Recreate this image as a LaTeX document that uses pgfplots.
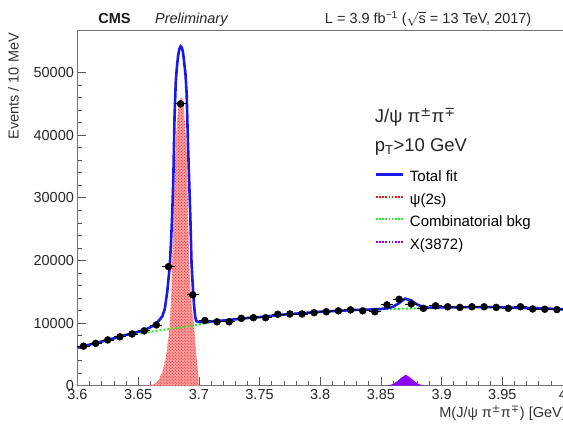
\documentclass[border=0pt]{standalone}
\usepackage{fontspec}
\setmainfont{Liberation Sans}
\newfontfamily\dejavu{DejaVu Sans}
\usepackage{pgfplots}
\pgfplotsset{compat=1.18}
\usetikzlibrary{patterns}
\definecolor{fitblue}{RGB}{25,25,235}
\definecolor{bkggreen}{RGB}{40,235,40}
\definecolor{xviolet}{RGB}{140,0,245}
\definecolor{sigred}{RGB}{240,20,20}

\pgfplotstableread{
x y ex ey
3.605 6300 0.005 80
3.615 6750 0.005 82
3.625 7300 0.005 85
3.635 7800 0.005 88
3.645 8250 0.005 91
3.655 8750 0.005 94
3.665 9700 0.005 98
3.675 19000 0.005 138
3.685 45000 0.005 212
3.695 14500 0.005 120
3.705 10400 0.005 102
3.715 10200 0.005 101
3.725 10200 0.005 101
3.735 10750 0.005 104
3.745 10850 0.005 104
3.755 10850 0.005 104
3.765 11400 0.005 107
3.775 11450 0.005 107
3.785 11450 0.005 107
3.795 11650 0.005 108
3.805 11800 0.005 109
3.815 11950 0.005 109
3.825 12100 0.005 110
3.835 11950 0.005 109
3.845 11800 0.005 109
3.855 12900 0.005 114
3.865 13800 0.005 117
3.875 13050 0.005 114
3.885 12350 0.005 111
3.895 12750 0.005 113
3.905 12600 0.005 112
3.915 12500 0.005 112
3.925 12600 0.005 112
3.935 12600 0.005 112
3.945 12500 0.005 112
3.955 12350 0.005 111
3.965 12600 0.005 112
3.975 12250 0.005 111
3.985 12200 0.005 110
3.995 12150 0.005 110
}\datatable

\pgfplotstableread{
x y
3.600 6100
3.610 6550
3.620 7050
3.630 7550
3.640 8100
3.645 8350
3.650 8600
3.655 8900
3.660 9300
3.663 9650
3.666 10150
3.668 10600
3.670 11100
3.672 12300
3.674 15000
3.675 17000
3.676 19000
3.677 22500
3.678 27000
3.679 33000
3.680 43000
3.681 48500
3.682 51000
3.683 52800
3.684 53800
3.685 54200
3.686 54000
3.687 53200
3.688 51500
3.689 49800
3.690 46500
3.691 39000
3.692 33000
3.693 27000
3.694 19500
3.695 16000
3.696 13000
3.697 11000
3.698 10300
3.700 10150
3.710 10250
3.720 10400
3.730 10600
3.740 10800
3.750 10950
3.760 11150
3.770 11350
3.780 11500
3.790 11650
3.800 11800
3.810 11900
3.820 12000
3.830 12100
3.840 12150
3.850 12250
3.855 12350
3.860 12600
3.865 13200
3.870 13900
3.875 13600
3.880 12950
3.885 12550
3.890 12450
3.900 12500
3.920 12550
3.940 12550
3.960 12450
3.980 12350
4.000 12200
}\fittable

\pgfplotstableread{
x y
3.600 6100
3.610 6550
3.620 7050
3.630 7550
3.640 8050
3.650 8350
3.660 8600
3.670 8900
3.680 9200
3.690 9450
3.700 9750
3.710 10150
3.720 10400
3.730 10600
3.740 10800
3.750 10950
3.760 11150
3.770 11350
3.780 11500
3.790 11650
3.800 11800
3.810 11900
3.820 12000
3.830 12100
3.840 12150
3.850 12200
3.860 12250
3.870 12300
3.880 12350
3.890 12400
3.900 12500
3.920 12550
3.940 12550
3.960 12450
3.980 12350
4.000 12200
}\bkgtable

\pgfplotstableread{
x y
3.655 0
3.660 100
3.664 300
3.667 900
3.670 2200
3.6725 4100
3.674 6000
3.676 9400
3.677 13000
3.678 19000
3.679 26000
3.680 33000
3.681 38500
3.682 42000
3.683 44500
3.6845 45800
3.686 46000
3.687 45500
3.688 43500
3.689 40500
3.690 37700
3.691 29000
3.692 20000
3.693 16000
3.694 13000
3.695 11200
3.6962 9400
3.697 7000
3.6984 4100
3.6995 2000
3.700 0
}\sigtable

\pgfplotstableread{
x y
3.855 0
3.860 250
3.864 800
3.867 1300
3.8705 1750
3.874 1300
3.877 800
3.881 250
3.886 0
}\xtable

\begin{document}
\begin{tikzpicture}
\begin{axis}[
  name=ax,
  width=486pt, height=356pt, scale only axis,
  xmin=3.6, xmax=4.0, ymin=0, ymax=56800,
  scaled y ticks=false, scaled x ticks=false,
  xtick={3.6,3.65,3.7,3.75,3.8,3.85,3.9,3.95,4.0},
  xticklabels={3.6,3.65,3.7,3.75,3.8,3.85,3.9,3.95,4},
  ytick={0,10000,20000,30000,40000,50000},
  yticklabels={0,10000,20000,30000,40000,50000},
  minor x tick num=4, minor y tick num=4,
  tick align=inside, tick pos=left,
  major tick length=9pt, minor tick length=5pt,
  every tick/.style={black!65, line width=0.6pt},
  axis line style={black!55, line width=0.8pt},
  tick label style={font=\fontsize{14.5}{15}\selectfont, text=black!85},
  legend style={at={(axis description cs:0.612,0.605)}, anchor=north west,
    draw=none, fill=none, inner sep=0pt, row sep=8pt,
    font=\fontsize{15}{15}\selectfont,
    nodes={inner sep=0pt, text height=11pt, text depth=3.5pt}},
  legend cell align=left,
  legend image code/.code={\draw[#1] (0pt,3.5pt) -- (27pt,3.5pt);},
  /tikz/every even column/.append style={column sep=0pt},
  /tikz/every odd column/.append style={column sep=6pt},
]
\addplot[draw=none, fill=red!38, forget plot] table[x=x,y=y] {\sigtable} \closedcycle;
\addplot[draw=none, pattern=crosshatch dots, pattern color=sigred, forget plot] table[x=x,y=y] {\sigtable} \closedcycle;
\addplot[draw=none, fill=xviolet, forget plot] table[x=x,y=y] {\xtable} \closedcycle;
\addplot[bkggreen, line width=2pt, dotted, forget plot] table[x=x,y=y] {\bkgtable};
\addplot[fitblue, line width=2.6pt, forget plot] table[x=x,y=y] {\fittable};
\addplot[only marks, mark=*, mark size=3.5pt, black, forget plot,
  error bars/.cd, x dir=both, x explicit, y dir=both, y explicit,
  error bar style={black, line width=0.8pt}, error mark=none]
  table[x=x,y=y,x error=ex,y error=ey] {\datatable};
\addlegendimage{fitblue, line width=2.2pt}
\addlegendentry{Total fit}
\addlegendimage{sigred, line width=1.8pt, dash pattern=on 1.6pt off 1.6pt}
\addlegendentry{ψ(2s)}
\addlegendimage{bkggreen, line width=1.8pt, dash pattern=on 1.6pt off 1.6pt}
\addlegendentry{Combinatorial bkg}
\addlegendimage{xviolet, line width=1.8pt, dash pattern=on 1.6pt off 1.6pt}
\addlegendentry{X(3872)}
\end{axis}
\node[anchor=base west, font=\fontsize{14.5}{15}\selectfont\bfseries, text=black!90] at ([xshift=17.5pt,yshift=6.7pt]ax.north west) {CMS};
\node[anchor=base west, font=\fontsize{14.5}{15}\selectfont\itshape, text=black!85] at ([xshift=74.2pt,yshift=6.7pt]ax.north west) {Preliminary};
\node[anchor=base east, font=\fontsize{14.5}{15}\selectfont, text=black!85, inner sep=0pt] at ([xshift=454.5pt,yshift=6.7pt]ax.north west) {L = 3.9 fb\textsuperscript{−1} ($\sqrt{\mathrm{s}}$ = 13 TeV, 2017)};
\node[anchor=base west, font=\fontsize{18.5}{19}\selectfont, text=black!85, inner sep=0pt] at ([xshift=297.5pt,yshift=-93pt]ax.north west) {J/ψ π\textsuperscript{\dejavu ±}π\textsuperscript{\dejavu ∓}};
\node[anchor=base west, font=\fontsize{18.5}{19}\selectfont, text=black!85, inner sep=0pt] at ([xshift=297.5pt,yshift=-121.7pt]ax.north west) {p\textsubscript{T}>10 GeV};
\node[rotate=90, anchor=south east, font=\fontsize{14.5}{15}\selectfont, text=black!80, inner sep=0pt] at ([xshift=-58.5pt,yshift=-3pt]ax.north west) {Events / 10 MeV};
\node[anchor=base east, font=\fontsize{14.5}{15}\selectfont, text=black!80, inner sep=0pt] at ([xshift=3pt,yshift=-32pt]ax.south east) {M(J/ψ π\textsuperscript{\dejavu ±}π\textsuperscript{\dejavu ∓}) [GeV]};
\pgfresetboundingbox
\path[use as bounding box] ([xshift=-77.5pt,yshift=-40pt]ax.south west) rectangle ([yshift=30pt]ax.north east);
\end{tikzpicture}
\end{document}
